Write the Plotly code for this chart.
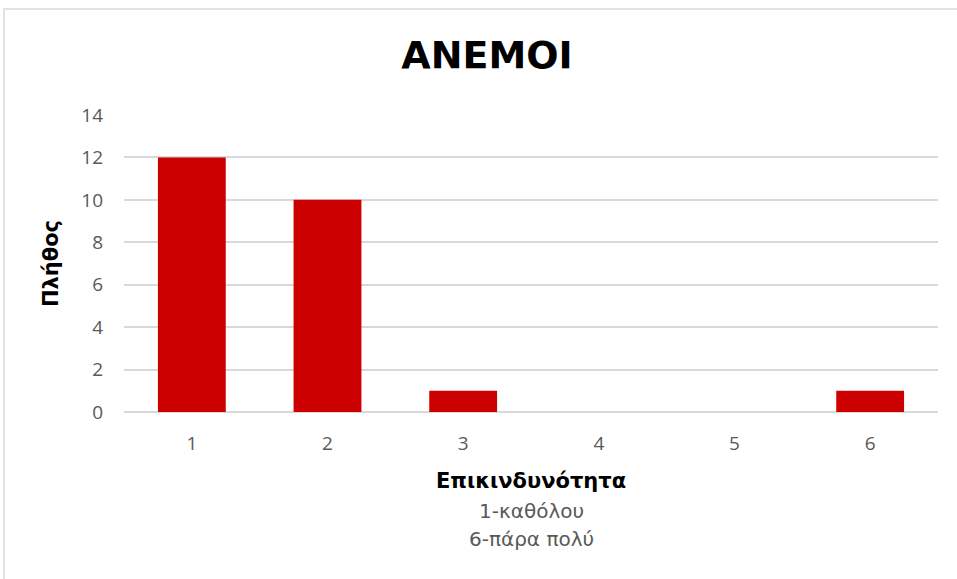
import plotly.graph_objects as go

# ── Data ──────────────────────────────────────────────────────────────────────
categories = ["1", "2", "3", "4", "5", "6"]
counts = [12, 10, 1, 0, 0, 1]
y_ticks = [0, 2, 4, 6, 8, 10, 12, 14]

TITLE = "ΑΝΕΜΟΙ"
Y_TITLE = "Πλήθος"
X_TITLE = "Επικινδυνότητα"
X_NOTES = ["1-καθόλου", "6-πάρα πολύ"]

BAR_RED = "#CC0000"
GRID = "#D9D9D9"
TICK_GREY = "#595959"
HEAD_FONT = "DejaVu Sans"
TICK_FONT = "Open Sans"

fig = go.Figure()
fig.add_trace(go.Bar(x=categories, y=counts, marker=dict(color=BAR_RED, line=dict(width=0))))

fig.update_layout(
    width=957,
    height=579,
    margin=dict(l=124, r=19, t=115, b=167),
    paper_bgcolor="white",
    plot_bgcolor="white",
    bargap=0.5,
    showlegend=False,
    title=dict(
        text=f"<b>{TITLE}</b>",
        x=487 / 957, xanchor="center", xref="container",
        y=1 - 55 / 579, yref="container", yanchor="middle",
        font=dict(family=HEAD_FONT, size=38, color="black"),
    ),
)

fig.update_xaxes(
    type="category",
    showgrid=False,
    showline=False,
    ticks="",
    tickfont=dict(family=TICK_FONT, size=19, color=TICK_GREY),
    ticklabelstandoff=18,
)
fig.update_yaxes(
    range=[0, 14],
    tickvals=y_ticks,
    showgrid=True,
    gridcolor=GRID,
    gridwidth=1.5,
    zeroline=True,
    zerolinecolor=GRID,
    zerolinewidth=1.5,
    showline=False,
    ticks="",
    tickfont=dict(family=TICK_FONT, size=19, color=TICK_GREY),
    ticklabelstandoff=20,
    title=dict(text=f"<b>{Y_TITLE}</b>", font=dict(family=HEAD_FONT, size=21, color="black"), standoff=16),
)

# x-axis title block (bold heading + two grey note lines)
fig.add_annotation(
    text=f"<b>{X_TITLE}</b>", xref="paper", yref="paper", x=0.5, y=(412 - 481) / 297,
    showarrow=False, yanchor="middle", font=dict(family=HEAD_FONT, size=21, color="black"),
)
for i, note in enumerate(X_NOTES):
    fig.add_annotation(
        text=note, xref="paper", yref="paper", x=0.5, y=(412 - (511 + 27.5 * i)) / 297,
        showarrow=False, yanchor="middle", font=dict(family=HEAD_FONT, size=20, color=TICK_GREY),
    )

# chart-area border
fig.add_shape(
    type="rect", xref="paper", yref="paper",
    x0=(4 - 124) / 814, x1=(975 - 124) / 814, y0=(412 - 600) / 297, y1=1 + (115 - 9) / 297,
    line=dict(color="#D9D9D9", width=1.5), fillcolor="rgba(0,0,0,0)", layer="below",
)

# drop the browser's default body margin so the figure sits at the page origin
fig.write_html(
    "out.html",
    config={"displayModeBar": False},
    post_script="document.body.style.margin='0';",
)
